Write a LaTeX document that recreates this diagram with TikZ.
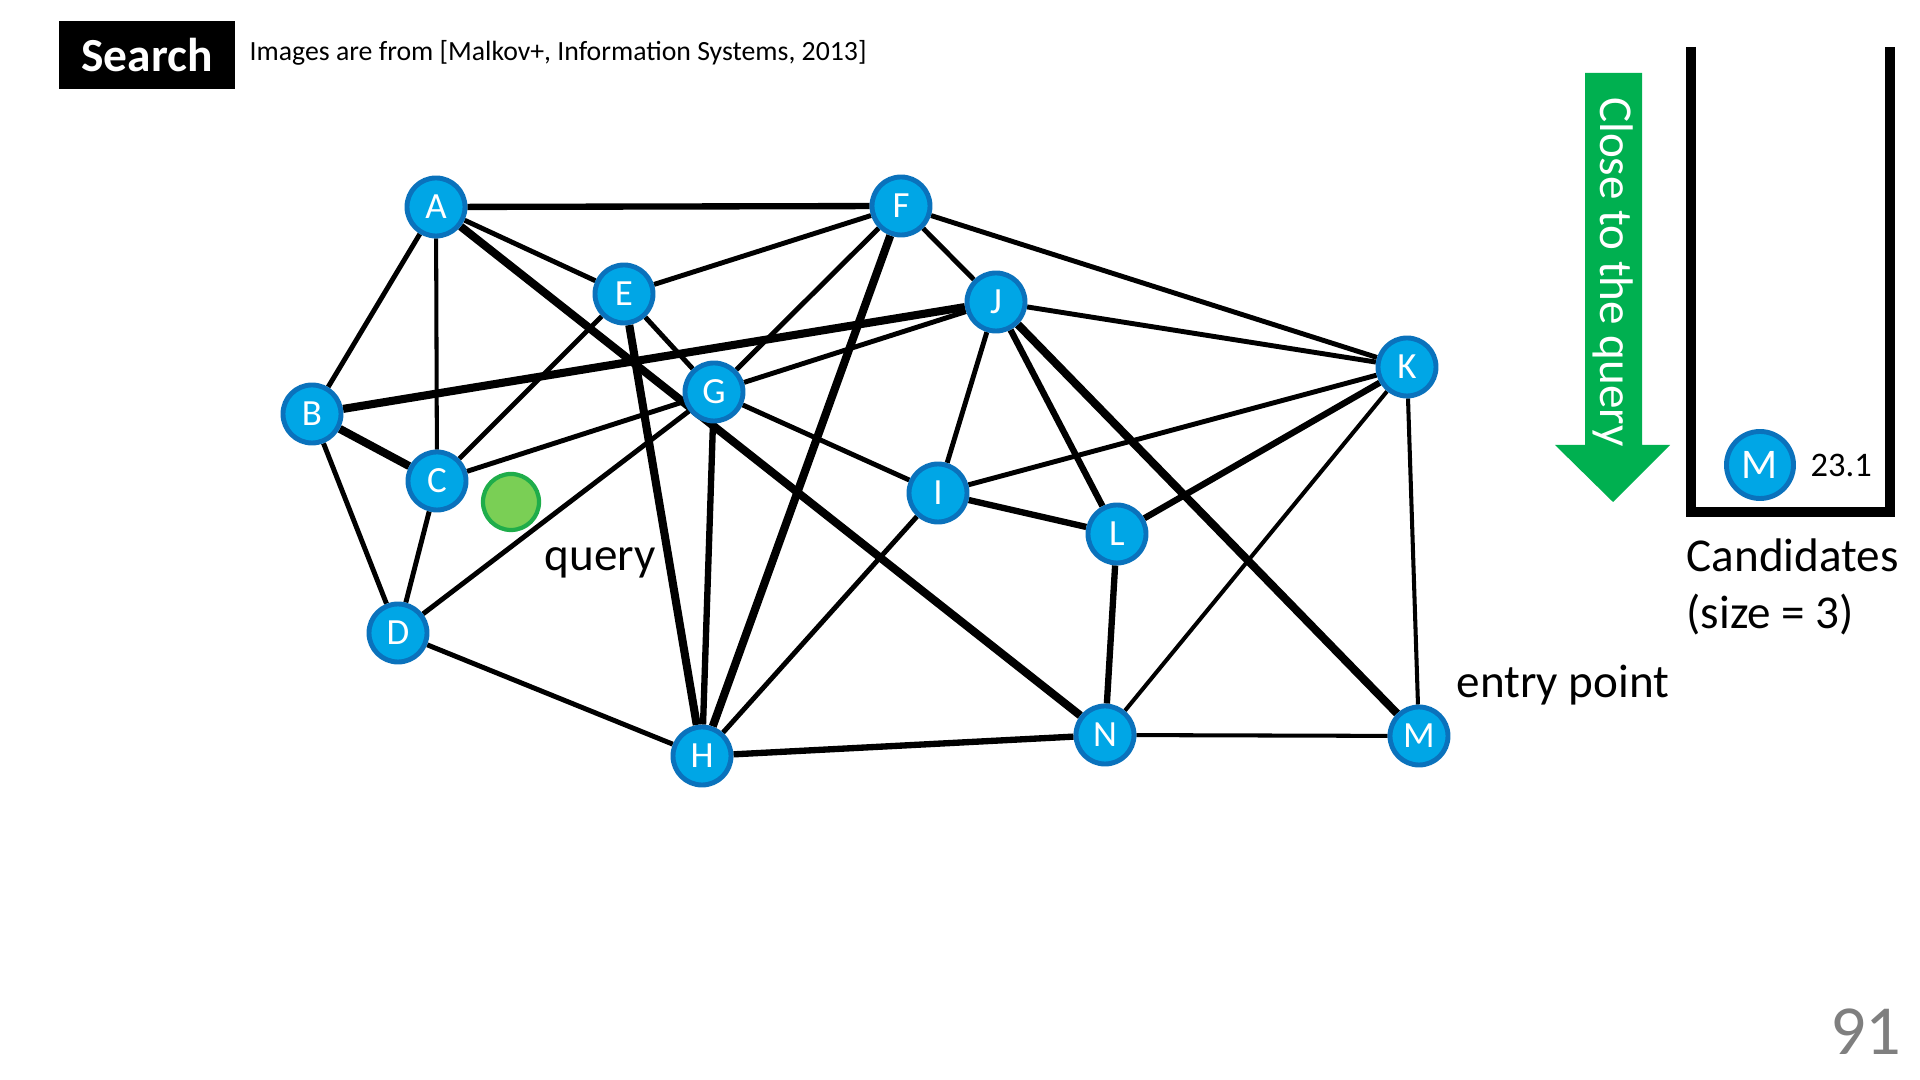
\documentclass[tikz,border=0pt]{standalone}
\usepackage{fontspec}
\setmainfont{Carlito}
\usetikzlibrary{backgrounds}
\definecolor{nodeblue}{HTML}{00A6E6}
\definecolor{noderim}{HTML}{0A72BC}
\definecolor{qgreen}{HTML}{7ACF55}
\definecolor{qrim}{HTML}{1FAD4A}
\definecolor{arrowgreen}{HTML}{00B050}
\definecolor{pagegray}{HTML}{7F7F7F}

\begin{document}
\begin{tikzpicture}[x=0.01cm,y=-0.01cm,
 vtx/.style={circle,fill=nodeblue,draw=noderim,line width=1.4pt,minimum size=0.58cm,inner sep=0pt,text=white,font=\fontsize{10.5}{12}\selectfont},
 edge/.style={line width=1.4pt},
 thinedge/.style={line width=1.15pt},
 midedge/.style={line width=1.8pt},
 thickedge/.style={line width=2.3pt},
 lbl/.style={font=\fontsize{13.4}{16.2}\selectfont,inner sep=0pt}]
\useasboundingbox (0,0) rectangle (1920,1080);
\node[fill=black,text=white,minimum width=1.75cm,minimum height=0.67cm,inner sep=0pt,font=\fontsize{13.5}{16}\selectfont\bfseries] (search) at (147,55) {Search};
\node[anchor=base west,inner sep=0pt,font=\fontsize{7.9}{9.5}\selectfont] (cite) at (249,61) {Images are from [Malkov+, Information Systems, 2013]};
\node[vtx] (A) at (436,207) {A};
\node[vtx] (F) at (901,206) {F};
\node[vtx] (E) at (624,294) {E};
\node[vtx] (J) at (996,302) {J};
\node[vtx] (G) at (714,392) {G};
\node[vtx] (K) at (1407,367) {K};
\node[vtx] (B) at (312,414) {B};
\node[vtx] (C) at (437,481) {C};
\node[vtx] (I) at (938,493) {I};
\node[vtx] (L) at (1117,534) {L};
\node[vtx] (D) at (398,633) {D};
\node[vtx] (H) at (702,756) {H};
\node[vtx] (N) at (1105,735) {N};
\node[vtx] (M) at (1419,736) {M};
\node[circle,fill=qgreen,draw=qrim,line width=1.2pt,minimum size=0.56cm,inner sep=0pt] (q) at (511,502) {};
\node[lbl,anchor=base west] (qlab) at (544,571) {query};
\node[lbl,anchor=base west] (entry) at (1456,698) {entry point};
\begin{scope}[on background layer]
\draw[midedge] (A) -- (F);
\draw[edge] (A) -- (B);
\draw[thinedge] (A) -- (C);
\draw[edge] (A) -- (E);
\draw[thickedge] (A) -- (N);
\draw[edge] (F) -- (E);
\draw[edge] (F) -- (J);
\draw[edge] (F) -- (K);
\draw[edge] (F) -- (G);
\draw[thickedge] (F) -- (H);
\draw[edge] (E) -- (C);
\draw[edge] (E) -- (G);
\draw[thickedge] (E) -- (H);
\draw[thickedge] (B) -- (J);
\draw[thickedge] (B) -- (C);
\draw[edge] (B) -- (D);
\draw[edge] (C) -- (D);
\draw[edge] (C) -- (G);
\draw[edge] (D) -- (G);
\draw[edge] (D) -- (H);
\draw[midedge] (G) -- (H);
\draw[edge] (G) -- (I);
\draw[edge] (J) -- (G);
\draw[edge] (J) -- (K);
\draw[edge] (J) -- (I);
\draw[midedge] (J) -- (L);
\draw[thickedge] (J) -- (M);
\draw[edge] (I) -- (K);
\draw[midedge] (I) -- (L);
\draw[edge] (I) -- (H);
\draw[midedge] (L) -- (K);
\draw[midedge] (L) -- (N);
\draw[thinedge] (K) -- (N);
\draw[thinedge] (K) -- (M);
\draw[midedge] (H) -- (N);
\draw[thinedge] (N) -- (M);
\end{scope}
\fill[arrowgreen] (1585,73) -- (1642,73) -- (1642,445) -- (1670,445) -- (1613,502) -- (1555,445) -- (1585,445) -- cycle;
\node[lbl,text=white,rotate=-90] (close) at (1613,272) {Close to the query};
\draw[line width=3pt] (1691,47) -- (1691,512) -- (1890,512) -- (1890,47);
\node[vtx,minimum size=0.67cm,font=\fontsize{12}{14}\selectfont] (cm) at (1760,465) {M};
\node[anchor=west,inner sep=0pt,font=\fontsize{9.8}{12}\selectfont] (dist) at (1810,465) {23.1};
\node[lbl,anchor=base west] (cand) at (1686,572) {Candidates};
\node[lbl,anchor=base west] (size) at (1686,629) {(size = 3)};
\node[anchor=base east,inner sep=0pt,text=pagegray,font=\fontsize{20}{24}\selectfont] (page) at (1902,1055) {91};
\end{tikzpicture}
\end{document}
